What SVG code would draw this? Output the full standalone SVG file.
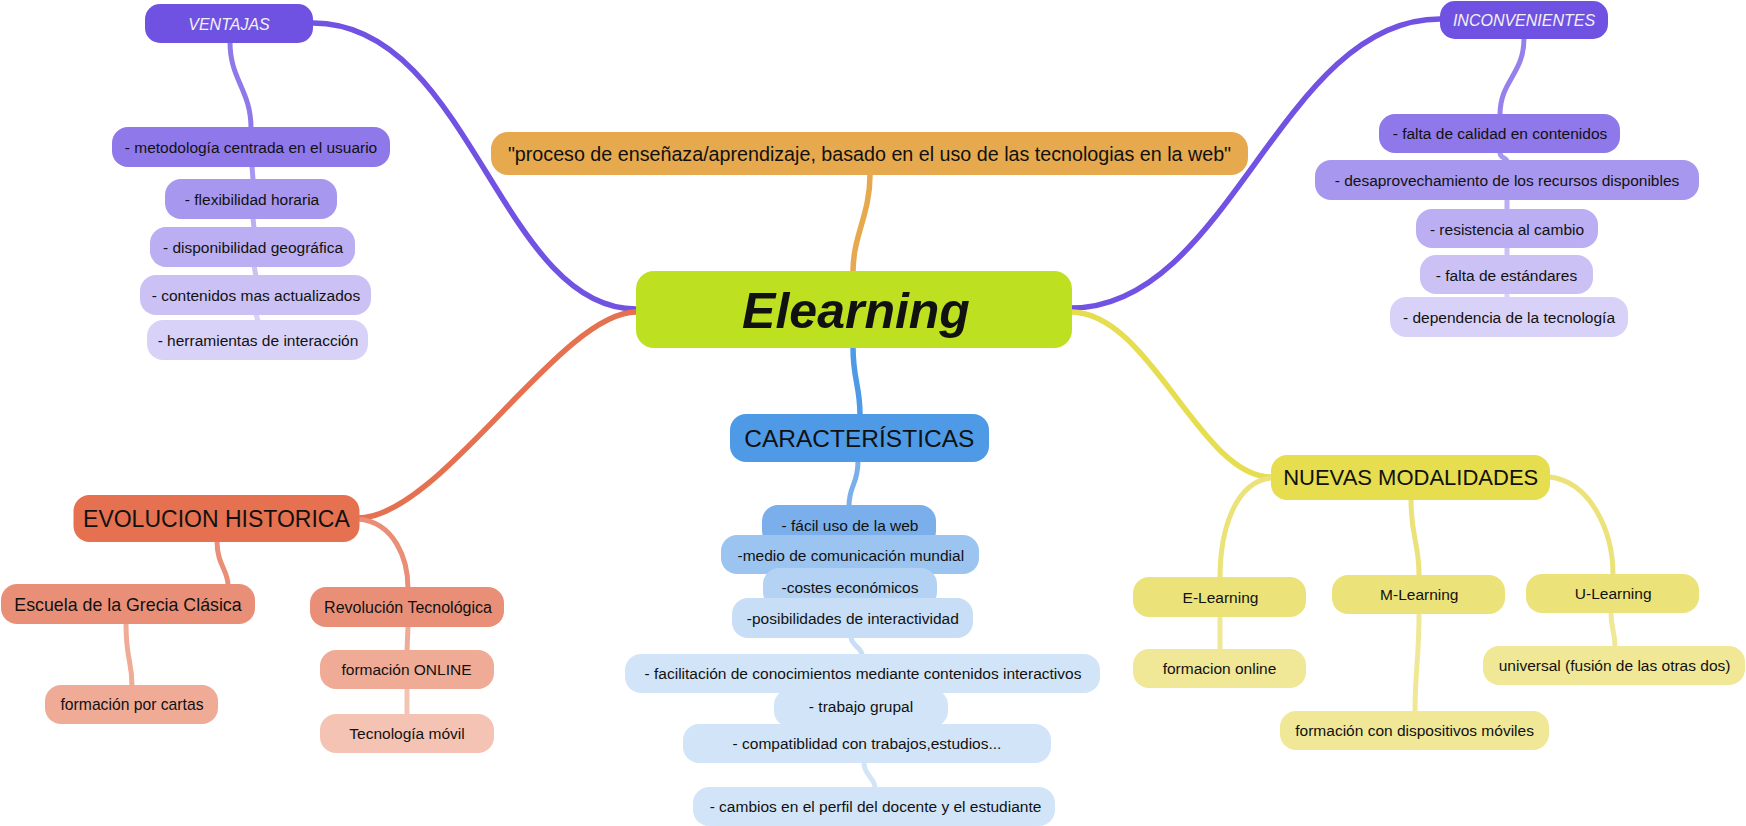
<svg xmlns="http://www.w3.org/2000/svg" width="1746" height="826" viewBox="0 0 1746 826">
<style>
text{font-family:"Liberation Sans",Arial,sans-serif;fill:#111;text-anchor:middle}
.s{font-size:15.5px}
.hd{font-size:16px;font-style:italic;fill:#f2f2f2}
.c{fill:none;stroke-linecap:round}
.m{stroke-width:5.5}
.k{stroke-width:5}
</style>
<rect width="1746" height="826" fill="#fff"/>
<g id="connectors">
<path class="c m" stroke="#7152E3" d="M636 309 C500 309 470 23 313 23"/>
<path class="c m" stroke="#7152E3" d="M1071 308 C1230 308 1280 19 1440 19"/>
<path class="c m" stroke="#E57150" d="M636 312 C560 312 440 518 358 518"/>
<path class="c m" stroke="#E6DD4F" d="M1071 312 C1150 312 1200 477 1271 477"/>
<path class="c m" stroke="#E6A94E" d="M853 272 C853 235 870 215 870 175"/>
<path class="c m" stroke="#4E9AE6" d="M853 347 C853 380 860 385 860 415"/>
<path class="c k" stroke="#8F78EA" d="M230 42 C230 80 251 90 251 128"/>
<path class="c k" stroke="#A897EE" d="M252 166 L253 180"/>
<path class="c k" stroke="#BCAEF2" d="M253 218 L254 228"/>
<path class="c k" stroke="#CBC1F5" d="M254 266 L256 276"/>
<path class="c k" stroke="#D9D2F8" d="M256 314 L258 321"/>
<path class="c k" stroke="#9680EB" d="M1524 38 C1524 75 1500 80 1500 115"/>
<path class="c k" stroke="#A897EE" d="M1500 153 C1500 158 1507 158 1507 161"/>
<path class="c k" stroke="#BCAEF2" d="M1507 199 L1507 210"/>
<path class="c k" stroke="#CBC1F5" d="M1507 248 L1507 256"/>
<path class="c k" stroke="#D9D2F8" d="M1507 294 L1507 298"/>
<path class="c k" stroke="#EA8F77" d="M217 541 C217 565 228 570 228 585"/>
<path class="c k" stroke="#EA8F77" d="M358 519 C395 522 408 560 408 588"/>
<path class="c k" stroke="#F0AB96" d="M126 624 C126 660 132 660 132 686"/>
<path class="c k" stroke="#F0AB96" d="M408 626 L407 651"/>
<path class="c k" stroke="#F5C3B4" d="M407 689 L407 715"/>
<path class="c k" stroke="#7AAFEB" d="M858 461 C858 485 849 485 849 506"/>
<path class="c k" stroke="#C8DEF7" d="M851 637 C851 645 862 648 862 655"/>
<path class="c k" stroke="#D2E5F8" d="M864 763 C864 775 875 778 875 788"/>
<path class="c k" stroke="#EBE37A" d="M1271 478 C1235 482 1220 530 1220 578"/>
<path class="c k" stroke="#EBE37A" d="M1411 499 C1411 540 1419 540 1419 576"/>
<path class="c k" stroke="#EBE37A" d="M1550 477 C1590 482 1613 530 1613 575"/>
<path class="c k" stroke="#F0E897" d="M1220 616 L1220 650"/>
<path class="c k" stroke="#F0E897" d="M1419 614 C1419 660 1415 670 1415 712"/>
<path class="c k" stroke="#F0E897" d="M1611 613 C1611 630 1615 630 1615 647"/>
</g>
<g id="def"><rect x="491" y="132" width="757" height="43" rx="17" fill="#E6A94E"/><text x="869.5" y="160.5" style="font-size:19.7px">"proceso de enseñaza/aprendizaje, basado en el uso de las tecnologias en la web"</text></g>
<g id="elearning"><rect x="636" y="271" width="436" height="77" rx="18" fill="#BDE021"/><text x="856" y="328" style="font-size:50px;font-weight:bold;font-style:italic">Elearning</text></g>
<g id="ventajas"><rect x="145" y="4" width="168" height="39" rx="15" fill="#7052E3"/><text class="hd" x="229" y="29.5">VENTAJAS</text></g>
<g id="v1"><rect x="112" y="127" width="278" height="40" rx="16" fill="#8F78EA"/><text class="s" x="251" y="152.5">- metodología centrada en el usuario</text></g>
<g id="v2"><rect x="165" y="179" width="172" height="40" rx="16" fill="#A897EE"/><text class="s" x="252" y="204.5">- flexibilidad horaria</text></g>
<g id="v3"><rect x="150" y="227" width="205" height="40" rx="16" fill="#BCAEF2"/><text class="s" x="253" y="252.5">- disponibilidad geográfica</text></g>
<g id="v4"><rect x="140" y="275" width="231" height="40" rx="16" fill="#CBC1F5"/><text class="s" x="256" y="300.5">- contenidos mas actualizados</text></g>
<g id="v5"><rect x="147" y="320" width="221" height="40" rx="16" fill="#D9D2F8"/><text class="s" x="258" y="345.5">- herramientas de interacción</text></g>
<g id="inconvenientes"><rect x="1440" y="1" width="168" height="38" rx="15" fill="#7052E3"/><text class="hd" x="1524" y="26">INCONVENIENTES</text></g>
<g id="i1"><rect x="1379" y="114" width="241" height="39" rx="16" fill="#8F78EA"/><text class="s" x="1500" y="139">- falta de calidad en contenidos</text></g>
<g id="i2"><rect x="1315" y="160" width="384" height="40" rx="16" fill="#A897EE"/><text class="s" x="1507" y="185.5">- desaprovechamiento de los recursos disponibles</text></g>
<g id="i3"><rect x="1416" y="209" width="182" height="39" rx="16" fill="#BCAEF2"/><text class="s" x="1507" y="234.5">- resistencia al cambio</text></g>
<g id="i4"><rect x="1420" y="255" width="173" height="39" rx="16" fill="#CBC1F5"/><text class="s" x="1506.5" y="280.5">- falta de estándares</text></g>
<g id="i5"><rect x="1390" y="297" width="238" height="40" rx="16" fill="#D9D2F8"/><text class="s" x="1509" y="322.5">- dependencia de la tecnología</text></g>
<g id="evolucion"><rect x="73.5" y="495" width="286" height="47" rx="16" fill="#E57150"/><text x="216.4" y="526.7" style="font-size:23px">EVOLUCION HISTORICA</text></g>
<g id="e1"><rect x="1" y="584" width="254" height="40" rx="16" fill="#EA8F77"/><text x="128" y="610.7" style="font-size:17.8px">Escuela de la Grecia Clásica</text></g>
<g id="e2"><rect x="310" y="587" width="194" height="40" rx="16" fill="#EA8F77"/><text x="408" y="612.7" style="font-size:16px">Revolución Tecnológica</text></g>
<g id="e3"><rect x="45" y="685" width="173" height="39" rx="16" fill="#F0AB96"/><text x="132" y="710.2" style="font-size:15.7px">formación por cartas</text></g>
<g id="e4"><rect x="320" y="650" width="174" height="39" rx="16" fill="#F0AB96"/><text class="s" x="406.5" y="675.2">formación ONLINE</text></g>
<g id="e5"><rect x="320" y="714" width="174" height="39" rx="16" fill="#F5C3B4"/><text class="s" x="407" y="739.2">Tecnología móvil</text></g>
<g id="caracteristicas"><rect x="730" y="414" width="259" height="48" rx="16" fill="#4E9AE6"/><text x="859.3" y="446.7" style="font-size:24.5px">CARACTERÍSTICAS</text></g>
<g id="c1"><rect x="762" y="505" width="174" height="42" rx="16" fill="#7AAFEB"/><text class="s" x="850" y="530.7">- fácil uso de la web</text></g>
<g id="c2"><rect x="721" y="535" width="258" height="39" rx="16" fill="#9CC4F0"/><text class="s" x="850.8" y="560.5">-medio de comunicación mundial</text></g>
<g id="c3"><rect x="763" y="568" width="174" height="40" rx="16" fill="#B3D2F4"/><text class="s" x="850" y="593.3">-costes económicos</text></g>
<g id="c4"><rect x="732" y="598" width="241" height="40" rx="16" fill="#C8DEF7"/><text class="s" x="852.8" y="623.5">-posibilidades de interactividad</text></g>
<g id="c5"><rect x="625" y="654" width="475" height="39" rx="16" fill="#D2E5F8"/><text class="s" x="863" y="679">- facilitación de conocimientos mediante contenidos interactivos</text></g>
<g id="c6"><rect x="774" y="689" width="174" height="38" rx="16" fill="#D2E5F8"/><text class="s" x="861" y="711.7">- trabajo grupal</text></g>
<g id="c7"><rect x="683" y="724" width="368" height="39" rx="16" fill="#D2E5F8"/><text class="s" x="867" y="749">- compatiblidad con trabajos,estudios...</text></g>
<g id="c8"><rect x="693" y="787" width="362" height="39" rx="16" fill="#D2E5F8"/><text class="s" x="875.5" y="812">- cambios en el perfil del docente y el estudiante</text></g>
<g id="nuevas"><rect x="1271" y="455" width="279" height="45" rx="16" fill="#E6DD4F"/><text x="1410.7" y="485" style="font-size:22px">NUEVAS MODALIDADES</text></g>
<g id="n1"><rect x="1133" y="577" width="173" height="40" rx="16" fill="#EBE37A"/><text class="s" x="1220.5" y="602.5">E-Learning</text></g>
<g id="n2"><rect x="1332" y="575" width="173" height="39" rx="16" fill="#EBE37A"/><text class="s" x="1419.3" y="600.2">M-Learning</text></g>
<g id="n3"><rect x="1526" y="574" width="173" height="39" rx="16" fill="#EBE37A"/><text class="s" x="1613.2" y="599.2">U-Learning</text></g>
<g id="n4"><rect x="1133" y="649" width="173" height="39" rx="16" fill="#F0E897"/><text class="s" x="1219.5" y="674.2">formacion online</text></g>
<g id="n5"><rect x="1280" y="711" width="269" height="39" rx="16" fill="#F0E897"/><text class="s" x="1414.6" y="736.2">formación con dispositivos móviles</text></g>
<g id="n6"><rect x="1483" y="646" width="262" height="39" rx="16" fill="#F0E897"/><text class="s" x="1614.6" y="671.2">universal (fusión de las otras dos)</text></g>
</svg>
